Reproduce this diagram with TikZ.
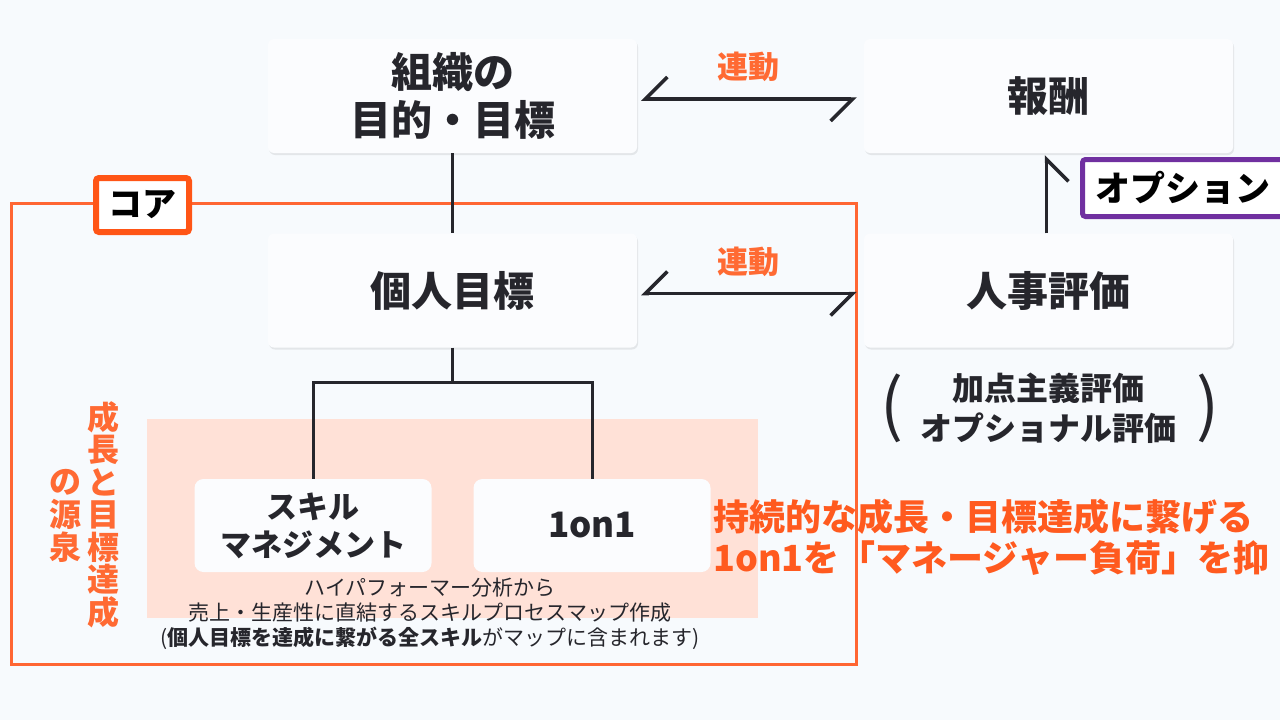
\documentclass[tikz,border=0pt]{standalone}
\usepackage{fontspec}
\setmainfont{Noto Sans CJK JP}
\usepackage{tikz}
\usepackage{xcolor}
\usetikzlibrary{arrows.meta,shadows}

\definecolor{bgcol}{HTML}{F7FAFD}
\definecolor{boxcol}{HTML}{FBFCFE}
\definecolor{inkcol}{HTML}{26262C}
\definecolor{corecol}{HTML}{FF6633}
\definecolor{corelabel}{HTML}{FF5516}
\definecolor{orangetext}{HTML}{FF6A33}
\definecolor{leadtext}{HTML}{FF5A1F}
\definecolor{pinkcol}{HTML}{FFE1D7}
\definecolor{optcol}{HTML}{7030A0}

\begin{document}
\begin{tikzpicture}[x=1pt,y=-1pt,
    card/.style={fill=boxcol, rounded corners=6pt, minimum width=369pt, minimum height=114pt,
      align=center, text=inkcol, font=\fontsize{41}{48}\selectfont\bfseries,
      drop shadow={shadow xshift=1pt, shadow yshift=-2pt, opacity=0.08, fill=black}},
    subcard/.style={fill=boxcol, rounded corners=9pt, minimum width=237pt, minimum height=93pt,
      align=center, text=inkcol, font=\fontsize{31}{38}\selectfont\bfseries},
    link/.style={draw=inkcol, line width=3.5pt,
      {Straight Barb[right,length=22pt,width=44pt]}-{Straight Barb[right,length=22pt,width=44pt]}},
    wire/.style={draw=inkcol, line width=3pt},
    linklabel/.style={text=orangetext, font=\fontsize{31}{31}\selectfont\bfseries},
    vchar/.style={text=orangetext, font=\fontsize{32}{32}\selectfont\bfseries, inner sep=0pt}]

  \fill[bgcol] (0,0) rectangle (1280,720);
  \useasboundingbox (0,0) rectangle (1280,720);
  \clip (0,0) rectangle (1280,720);

  \fill[pinkcol] (147,419) rectangle (758,618);
  \draw[corecol, line width=3pt] (11.5,203) rectangle (856,664);

  \node[card] (soshiki) at (452.5,96) {組織の\\目的・目標};
  \node[card] (houshu) at (1048.5,96) {報酬};
  \node[card] (kojin) at (452.5,290.5) {個人目標};
  \node[card] (jinji) at (1048.5,290.5) {人事評価};

  \node[subcard] (skill) at (313,525.5) {スキル\\マネジメント};
  \node[subcard, font=\fontsize{35}{38}\selectfont\bfseries] (oneon) at (592,525.5) {1on1};

  \draw[wire] (soshiki) -- (kojin);
  \draw[wire] (kojin.south) -- ++(0,35) coordinate (fork) -| (skill.north);
  \draw[wire] (fork) -| (oneon.north);

  \draw[link, shorten <=4pt, shorten >=7pt] ([yshift=-3pt]soshiki.east) -- ([yshift=-3pt]houshu.west);
  \draw[link, shorten <=4pt, shorten >=7pt] ([yshift=-3pt]kojin.east) -- ([yshift=-3pt]jinji.west);
  \draw[draw=inkcol, line width=3.5pt, -{Straight Barb[right,length=22pt,width=44pt]}, shorten >=2pt]
    ([xshift=-2pt]jinji.north) -- ([xshift=-2pt]houshu.south);

  \node[linklabel] (syncup) at (748,67) {連動};
  \node[linklabel] (syncdown) at (748,262) {連動};

  \node[draw=optcol, line width=5pt, fill=white, rounded corners=3pt, anchor=west,
    inner xsep=13pt, minimum height=57pt, font=\fontsize{35}{35}\selectfont\bfseries]
    (option) at (1080,188) {オプション};

  \node[text=inkcol, font=\fontsize{32}{40}\selectfont\bfseries, align=center]
    (kind) at (1048,408) {加点主義評価\\オプショナル評価};
  \node[text=inkcol, font=\fontsize{68}{68}\selectfont] (lparen) at (892,408) {(};
  \node[text=inkcol, font=\fontsize{68}{68}\selectfont] (rparen) at (1208,408) {)};

  \foreach \ch [count=\k from 0] in {成,長,と,目,標,達,成}
    \node[vchar] (grow\k) at (103,417+32.5*\k) {\ch};
  \foreach \ch [count=\k from 2] in {の,源,泉}
    \node[vchar] (source\k) at (65,417+32.5*\k) {\ch};

  \node[text=inkcol, font=\fontsize{21}{25}\selectfont, align=center] (mapnote) at (430,614)
    {ハイパフォーマー分析から\\売上・生産性に直結するスキルプロセスマップ作成\\(\textbf{個人目標を達成に繋がる全スキル}がマップに含まれます)};

  \node[text=leadtext, font=\fontsize{36}{41}\selectfont\bfseries, align=left, anchor=west,
    inner sep=0pt] (lead) at (713,537)
    {持続的な成長・目標達成に繋げる\\1on1を「マネージャー負荷」を抑};

  \node[draw=corelabel, line width=6pt, fill=white, rounded corners=3pt, minimum width=93pt,
    minimum height=54pt, text=black, font=\fontsize{34}{34}\selectfont\bfseries]
    (core) at (142.5,205) {コア};
\end{tikzpicture}
\end{document}
